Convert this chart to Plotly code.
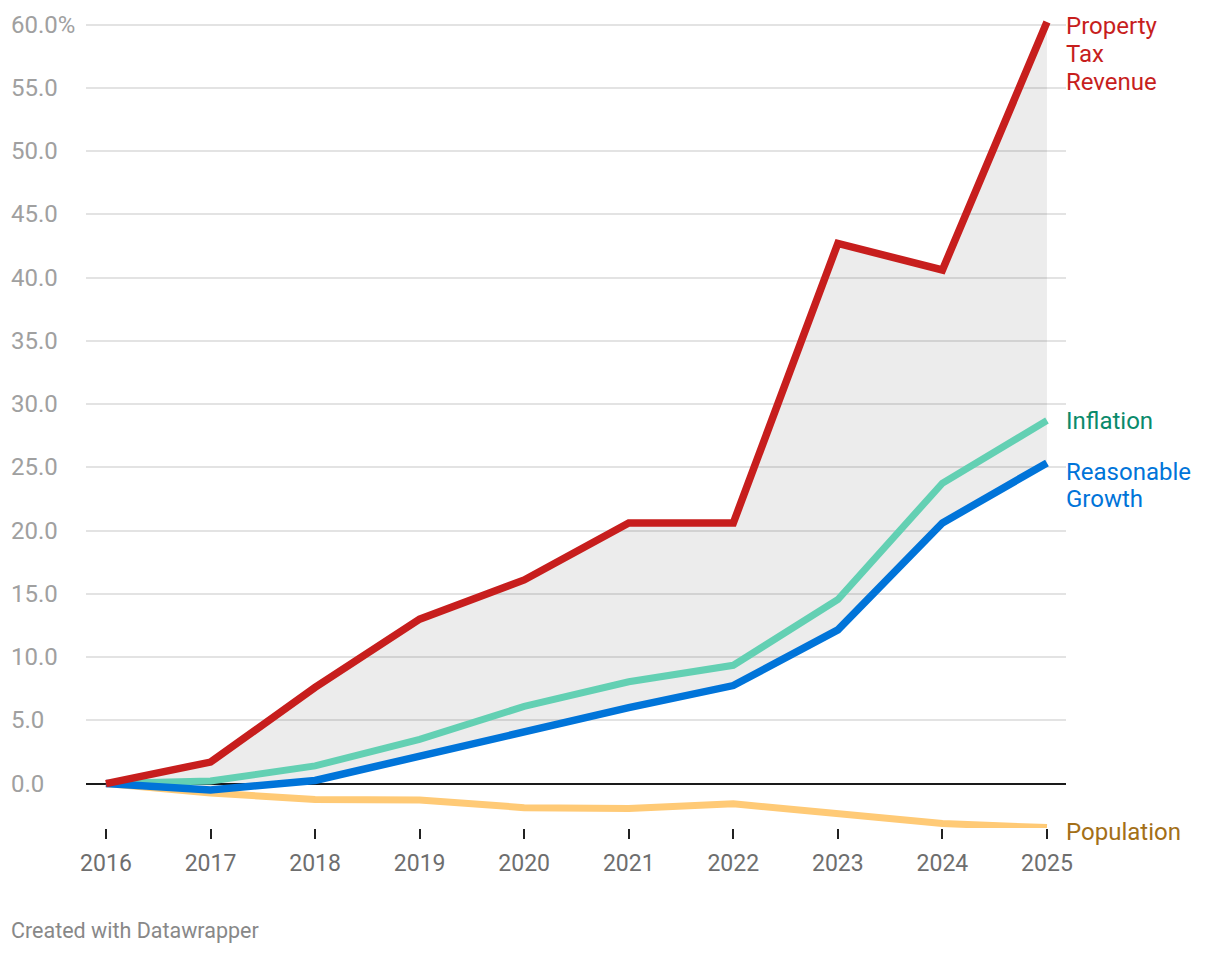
import plotly.graph_objects as go

years = [2016, 2017, 2018, 2019, 2020, 2021, 2022, 2023, 2024, 2025]
property_tax = [0, 1.7, 7.6, 13.0, 16.1, 20.6, 20.6, 42.7, 40.6, 60.2]
inflation = [0, 0.2, 1.4, 3.5, 6.1, 8.05, 9.35, 14.55, 23.75, 28.7]
reasonable = [0, -0.5, 0.25, 2.15, 4.2, 6.0, 7.75, 12.15, 20.6, 25.35]
population = [0, -0.75, -1.25, -1.3, -1.9, -1.97, -1.6, -2.37, -3.16, -3.48]

y_ticks = [0, 5, 10, 15, 20, 25, 30, 35, 40, 45, 50, 55, 60]
y_tick_text = ["0.0", "5.0", "10.0", "15.0", "20.0", "25.0", "30.0", "35.0",
               "40.0", "45.0", "50.0", "55.0", "60.0%"]

RED = "#c71e1d"
GREEN_LINE = "#63d0b3"
GREEN_TEXT = "#0a8a6b"
BLUE = "#0074d9"
POP_LINE = "#ffca76"
POP_TEXT = "#a36f18"
FONT = "Roboto"

fig = go.Figure()

# shaded band between reasonable growth and property tax
fig.add_trace(go.Scatter(x=years, y=reasonable, mode="lines",
                         line=dict(width=0), hoverinfo="skip", showlegend=False))
fig.add_trace(go.Scatter(x=years, y=property_tax, mode="lines", fill="tonexty",
                         fillcolor="rgba(0,0,0,0.075)",
                         line=dict(width=0), hoverinfo="skip", showlegend=False))

fig.add_trace(go.Scatter(x=years, y=population, mode="lines", name="Population",
                         line=dict(color=POP_LINE, width=7), showlegend=False, cliponaxis=False))
fig.add_trace(go.Scatter(x=years, y=inflation, mode="lines", name="Inflation",
                         line=dict(color=GREEN_LINE, width=7), showlegend=False, cliponaxis=False))
fig.add_trace(go.Scatter(x=years, y=reasonable, mode="lines", name="Reasonable Growth",
                         line=dict(color=BLUE, width=7.5), showlegend=False, cliponaxis=False))
fig.add_trace(go.Scatter(x=years, y=property_tax, mode="lines", name="Property Tax Revenue",
                         line=dict(color=RED, width=7.5), showlegend=False, cliponaxis=False))

annotations = []
for v, t in zip(y_ticks, y_tick_text):
    annotations.append(dict(x=0, xref="paper", y=v, yref="y", text=t, showarrow=False,
                            xanchor="left", yanchor="middle", xshift=-77,
                            font=dict(family=FONT, size=24, color="#a0a0a0")))

label_font = 24
def series_label(text, y, color, yshift):
    annotations.append(dict(x=years[-1], xref="x", y=y, yref="y", text=text, showarrow=False,
                            xanchor="left", yanchor="middle", xshift=17, yshift=yshift,
                            font=dict(family=FONT, size=label_font, color=color)))

series_label("Property", property_tax[-1], RED, -4)
series_label("Tax", property_tax[-1], RED, -32)
series_label("Revenue", property_tax[-1], RED, -60)
series_label("Inflation", inflation[-1], GREEN_TEXT, 0)
series_label("Reasonable", reasonable[-1], BLUE, -9.5)
series_label("Growth", reasonable[-1], BLUE, -36.5)
series_label("Population", population[-1], POP_TEXT, -4.5)

annotations.append(dict(x=0, xref="paper", y=0, yref="paper", text="Created with Datawrapper",
                        showarrow=False, xanchor="left", yanchor="middle", xshift=-77, yshift=-102,
                        font=dict(family=FONT, size=21.5, color="#888888")))

fig.update_layout(
    width=1204, height=938,
    margin=dict(l=78, r=146, t=2, b=118, pad=0),
    paper_bgcolor="white", plot_bgcolor="white",
    showlegend=False,
    annotations=annotations,
    xaxis=dict(range=[2015.809, 2025.182], tickmode="array", tickvals=years,
               ticktext=[str(y) for y in years], ticks="outside", ticklen=10, tickwidth=2,
               tickcolor="#222222", showgrid=False, zeroline=False, showline=False,
               ticklabelstandoff=4,
               tickfont=dict(family=FONT, size=23, color="#6e6e6e")),
    yaxis=dict(range=[-3.51, 61.15], tickmode="array", tickvals=y_ticks,
               showticklabels=False, showgrid=True, gridcolor="#e3e3e3", gridwidth=1.5,
               zeroline=True, zerolinecolor="#1a1a1a", zerolinewidth=2, showline=False),
)

fig.write_html("out.html")
